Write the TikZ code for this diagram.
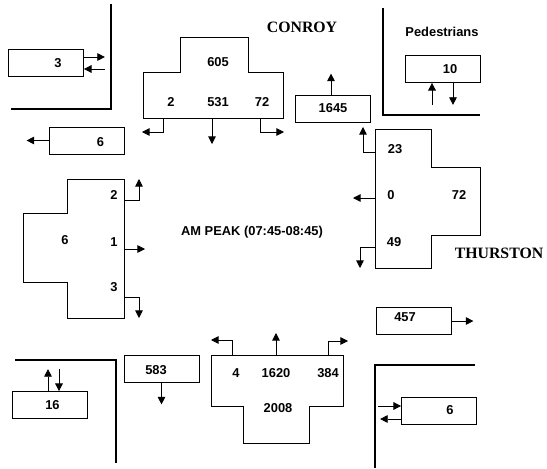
\documentclass[tikz,border=0pt]{standalone}
\usepackage{fontspec}
\setmainfont{Liberation Serif}
\setsansfont{Liberation Sans}
\usetikzlibrary{arrows.meta}

\begin{document}
\begin{tikzpicture}[x=0.3mm, y=-0.3mm, line width=0.7pt,
    box/.style={draw, minimum width=22.5mm, minimum height=8.1mm, inner sep=0pt},
    num/.style={font=\sffamily\bfseries\fontsize{11}{13}\selectfont, inner sep=0pt},
    street/.style={font=\rmfamily\bfseries\fontsize{13.5}{16}\selectfont, inner sep=0pt},
    road/.style={line width=2.4pt},
    flow/.style={-{Triangle[length=6.5pt,width=6.5pt]}},
    flowin/.style={{Triangle[length=6.5pt,width=6.5pt]}-}]
    \useasboundingbox (0,0) rectangle (547,468);
    \draw[road] (111,4) -- (111,109) -- (11,109);
    \draw[road] (383,8) -- (383,115) -- (480,115);
    \draw[road] (15,360) -- (116,360) -- (116,463);
    \draw[road] (475,365) -- (375,365) -- (375,468);
    \node[street] (conroy) at (302,27) {CONROY};
    \node[street] (thurston) at (499,253) {THURSTON};
    \node[num] (peak) at (252,232) {AM PEAK (07:45-08:45)};
    \node[num] (ped) at (442,32) {Pedestrians};
    % Conroy approach
    \draw (143,118) -- (143,72) -- (180,72) -- (180,37) -- (248,37) -- (248,72) -- (283,72) -- (283,118) -- cycle;
    \node[num] (nThru) at (218,62) {605};
    \node[num] (nLeft) at (171,102) {2};
    \node[num] (nMid) at (218,102) {531};
    \node[num] (nRight) at (262,102) {72};
    \coordinate (nA) at (163,118);
    \coordinate (nB) at (212,118);
    \coordinate (nC) at (260,118);
    \draw[flow] (nA) |- ++(-21,14);
    \draw[flow] (nB) -- ++(0,26);
    \draw[flow] (nC) |- ++(24,14);
    % Thurston approach
    \draw (375,129) -- (431,129) -- (431,167) -- (480,167) -- (480,235) -- (431,235) -- (431,268) -- (375,268) -- cycle;
    \node[num] (eTop) at (395,149) {23};
    \node[num] (eMid) at (391,195) {0};
    \node[num] (eTot) at (459,195) {72};
    \node[num] (eBot) at (394,242) {49};
    \coordinate (eA) at (375,152);
    \coordinate (eB) at (375,198);
    \coordinate (eC) at (375,247);
    \draw[flow] (eA) -| ++(-12,-25);
    \draw[flow] (eB) -- ++(-22,0);
    \draw[flow] (eC) -| ++(-15,21);
    % west approach
    \draw (67,179) -- (124,179) -- (124,318) -- (67,318) -- (67,282) -- (23,282) -- (23,213) -- (67,213) -- cycle;
    \node[num] (wTop) at (114,195) {2};
    \node[num] (wMid) at (114,242) {1};
    \node[num] (wBot) at (114,287) {3};
    \node[num] (wTot) at (65,240) {6};
    \coordinate (wA) at (124,200);
    \coordinate (wB) at (124,249);
    \coordinate (wC) at (124,297);
    \draw[flow] (wA) -| ++(15,-21);
    \draw[flow] (wB) -- ++(21,0);
    \draw[flow] (wC) -| ++(15,21);
    % south approach
    \draw (211,355) -- (343,355) -- (343,406) -- (309,406) -- (309,443) -- (243,443) -- (243,406) -- (211,406) -- cycle;
    \node[num] (sLeft) at (236,373) {4};
    \node[num] (sMid) at (276,373) {1620};
    \node[num] (sRight) at (328,373) {384};
    \node[num] (sTot) at (278,408) {2008};
    \coordinate (sA) at (232,355);
    \coordinate (sB) at (276,355);
    \coordinate (sC) at (328,355);
    \draw[flow] (sA) |- ++(-21,-15);
    \draw[flow] (sB) -- ++(0,-22);
    \draw[flow] (sC) |- ++(20,-14);
    % exit and pedestrian boxes
    \node[box] (b3) at (46,62.5) {};
    \node[num] (t3) at (58,63) {3};
    \draw[flow] (b3.east |- 0,57) -- ++(21,0);
    \draw[flowin] (b3.east |- 0,69) -- ++(21,0);
    \node[box] (b6w) at (86.5,140.5) {};
    \node[num] (t6w) at (100.5,142) {6};
    \draw[flow] (b6w.west) -- ++(-22,0);
    \node[box] (b1645) at (332.5,108.5) {};
    \node[num] (t1645) at (333,108) {1645};
    \draw[flow] (b1645.north -| 331,0) -- ++(0,-21);
    \node[box] (b10) at (442.5,69) {};
    \node[num] (t10) at (450,69) {10};
    \draw[flowin] (b10.south -| 432,0) -- ++(0,22);
    \draw[flow] (b10.south -| 453,0) -- ++(0,22);
    \node[box] (b457) at (413.5,321) {};
    \node[num] (t457) at (405,317) {457};
    \draw[flow] (b457.east) -- ++(22,0);
    \node[box] (b6e) at (439,410.5) {};
    \node[num] (t6e) at (450,410) {6};
    \draw[flowin] (b6e.west |- 0,406) -- ++(-23,0);
    \draw[flow] (b6e.west |- 0,419) -- ++(-21,0);
    \node[box] (b583) at (161.5,368.5) {};
    \node[num] (t583) at (156,370) {583};
    \draw[flow] (b583.south) -- ++(0,22);
    \node[box] (b16) at (49.5,405) {};
    \node[num] (t16) at (52.5,405) {16};
    \draw[flow] (b16.north -| 48,0) -- ++(0,-22);
    \draw[flowin] (b16.north -| 59,0) -- ++(0,-22);
\end{tikzpicture}
\end{document}
